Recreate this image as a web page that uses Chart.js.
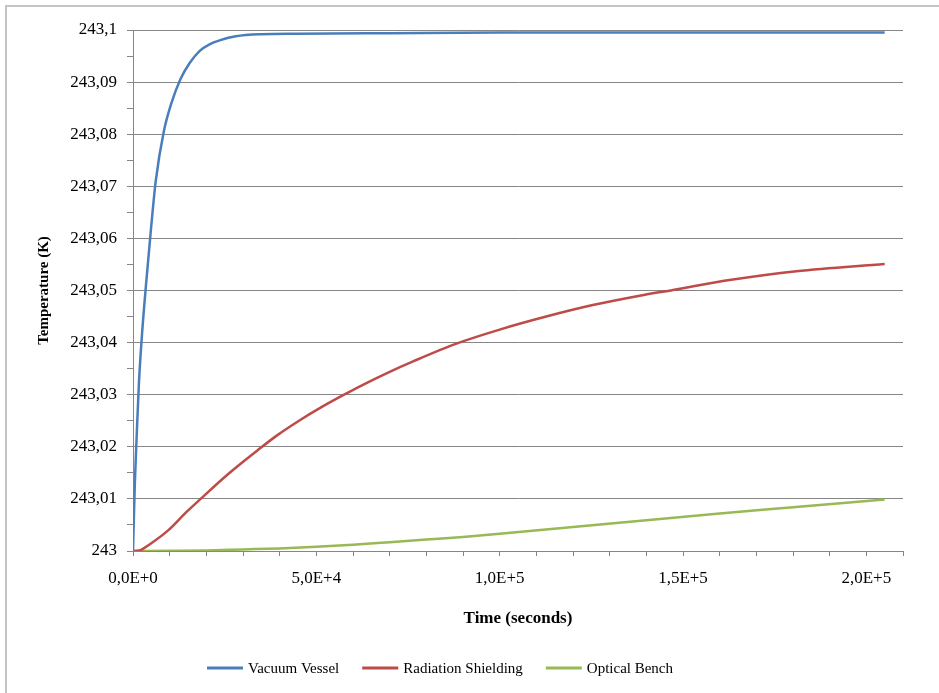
<!DOCTYPE html>
<html>
<head>
<meta charset="utf-8">
<script src="https://cdn.jsdelivr.net/npm/chart.js@4/dist/chart.umd.min.js"></script>
<style>
  html, body { margin: 0; padding: 0; background: #ffffff; overflow: hidden; }
  #frame { position: absolute; left: 5px; top: 5px; width: 1000px; height: 1000px; border: 2px solid #c4c4c4; box-sizing: border-box; }
  #wrap { position: absolute; left: 0; top: 0; width: 939px; height: 693px; }
</style>
</head>
<body>
<div id="frame"></div>
<div id="wrap"><canvas id="c" width="939" height="693"></canvas></div>
<script>
// ---- Data ----
const seriesNames = ['Vacuum Vessel', 'Radiation Shielding', 'Optical Bench'];

const vesselTime = [0, 500, 1000, 1600, 2500, 3600, 4800, 6200, 8400, 10500, 12900, 15500, 18200, 21000, 23600, 28000, 35000, 45000, 70000, 100000, 150000, 205000];
const vesselTemp = [243.000, 243.013, 243.022, 243.032, 243.042, 243.0515, 243.061, 243.071, 243.0805, 243.0860, 243.0905, 243.0937, 243.0960, 243.0973, 243.0980, 243.0988, 243.0992, 243.0993, 243.0994, 243.0995, 243.0995, 243.0995];

const shieldTime = [0, 1800, 4600, 9500, 14600, 18600, 25500, 34100, 39100, 45500, 51400, 57300, 62700, 70000, 76400, 88200, 100000, 112700, 125400, 138200, 147300, 162700, 180900, 205000];
const shieldTemp = [243.0000, 243.0001, 243.0013, 243.0039, 243.0075, 243.0101, 243.0145, 243.0194, 243.0221, 243.0251, 243.0276, 243.0299, 243.0319, 243.0344, 243.0364, 243.0398, 243.0425, 243.0450, 243.0472, 243.0490, 243.0501, 243.0520, 243.0537, 243.0551];

const benchTime = [0, 10000, 20000, 30000, 40000, 50000, 60000, 70000, 80000, 90000, 100000, 120000, 140000, 160000, 180000, 205000];
const benchTemp = [243.0000, 243.00003, 243.0001, 243.0003, 243.0005, 243.0008, 243.0012, 243.0017, 243.0022, 243.0027, 243.0033, 243.0046, 243.0059, 243.0072, 243.0084, 243.0099];

const xTitle = 'Time (seconds)';
const yTitle = 'Temperature (K)';
const yMin = 243.0, yMax = 243.1, yMinorStep = 0.005;
const xMin = 0, xMax = 210000, xMinorStep = 10000, xLabelStep = 50000;

// ---- Chart ----
const colors = ['#4A7EBB', '#BE4B48', '#98B954'];
const gridColor = '#868686';
const serif = '"Liberation Serif", "Times New Roman", serif';

function toPoints(xs, ys) { return xs.map((x, i) => ({ x: x, y: ys[i] })); }

const legendPlugin = {
  id: 'excelLegend',
  afterDraw(chart) {
    const ctx = chart.ctx;
    ctx.save();
    ctx.font = '15px ' + serif;
    ctx.textBaseline = 'middle';
    ctx.textAlign = 'left';
    let x = 207;
    const y = 668;
    chart.data.datasets.forEach((ds) => {
      ctx.strokeStyle = ds.borderColor;
      ctx.lineWidth = 3;
      ctx.beginPath();
      ctx.moveTo(x, y);
      ctx.lineTo(x + 36, y);
      ctx.stroke();
      x += 36 + 5;
      ctx.fillStyle = '#000000';
      ctx.fillText(ds.label, x, y + 1);
      x += ctx.measureText(ds.label).width + 23;
    });
    ctx.restore();
  }
};

new Chart(document.getElementById('c'), {
  type: 'line',
  data: {
    datasets: [
      { label: seriesNames[0], data: toPoints(vesselTime, vesselTemp), borderColor: colors[0] },
      { label: seriesNames[1], data: toPoints(shieldTime, shieldTemp), borderColor: colors[1] },
      { label: seriesNames[2], data: toPoints(benchTime, benchTemp), borderColor: colors[2] }
    ].map(d => Object.assign(d, {
      backgroundColor: d.borderColor,
      borderWidth: 2.5,
      pointRadius: 0,
      fill: false,
      cubicInterpolationMode: 'monotone'
    }))
  },
  options: {
    responsive: false,
    animation: false,
    events: [],
    layout: { padding: { left: 0, top: 30, right: 36, bottom: 0 } },
    plugins: { legend: { display: false }, tooltip: { enabled: false } },
    scales: {
      x: {
        type: 'linear',
        min: xMin, max: xMax,
        afterFit(s) { s.height = 142; },
        border: { color: gridColor, width: 1 },
        grid: { drawOnChartArea: false, drawTicks: true, tickLength: 5, tickColor: gridColor },
        ticks: {
          stepSize: xMinorStep,
          autoSkip: false,
          maxRotation: 0,
          padding: 12,
          color: '#000000',
          font: { family: serif, size: 17 },
          callback(v) {
            if (Math.round(v) % xLabelStep !== 0) return '';
            return v.toExponential(1).replace('.', ',').replace('e', 'E');
          }
        },
        title: {
          display: true, text: xTitle, color: '#000000',
          font: { family: serif, size: 17, weight: 'bold' },
          padding: { top: 0, bottom: 64 }
        }
      },
      y: {
        type: 'linear',
        min: yMin, max: yMax,
        afterFit(s) { s.width = 133; },
        border: { color: gridColor, width: 1 },
        grid: {
          color(c) { return Math.round(c.tick.value * 1000) % 10 === 0 ? gridColor : 'rgba(0,0,0,0)'; },
          tickColor: gridColor,
          tickLength: 6,
          lineWidth: 1
        },
        ticks: {
          stepSize: yMinorStep,
          autoSkip: false,
          padding: 10,
          color: '#000000',
          font: { family: serif, size: 17 },
          callback(v) {
            const r = Math.round(v * 1000);
            if (r % 10 !== 0) return '';
            return (r / 1000).toString().replace('.', ',');
          }
        },
        title: {
          display: true, text: yTitle, color: '#000000',
          font: { family: serif, size: 15, weight: 'bold' },
          padding: { top: 35, bottom: 0 }
        }
      }
    }
  },
  plugins: [legendPlugin]
});
</script>
</body>
</html>
